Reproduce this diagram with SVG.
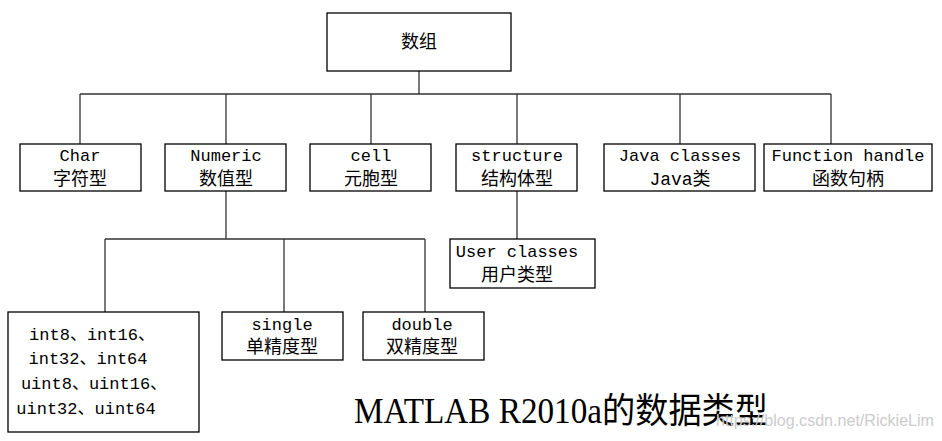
<svg xmlns="http://www.w3.org/2000/svg" width="942" height="441" viewBox="0 0 942 441">
<style>
.box{fill:#fff;stroke:#000;stroke-width:1.3}
.ln{stroke:#333;stroke-width:1.3;fill:none}
text{font-family:"Liberation Mono","Noto Sans CJK SC",monospace;font-size:17px;fill:#000;text-anchor:middle}
.cj{font-size:18px}
.title{font-family:"Liberation Serif","Noto Sans CJK SC",serif;font-size:35px;text-anchor:start}
.wm{font-family:"Liberation Sans",sans-serif;font-size:16px;fill:#ccc;text-anchor:start}
</style>
<rect width="942" height="441" fill="#fff"/>
<g id="connectors">
<path class="ln" d="M419,71V94M80,94H831M80,94V144M226,94V144M371,94V144M517,94V144M680,94V144M831,94V144"/>
<path class="ln" d="M226,191V239M105,239H425M105,239V312M284,239V312M425,239V312"/>
<path class="ln" d="M517,191V239"/>
</g>
<g id="root"><rect class="box" x="327" y="13" width="184" height="58"/><text class="cj" x="419" y="48">数组</text></g>
<g id="char"><rect class="box" x="20" y="144" width="121" height="47"/><text x="80" y="161">Char</text><text class="cj" x="80" y="185">字符型</text></g>
<g id="numeric"><rect class="box" x="165" y="144" width="121" height="47"/><text x="226" y="161">Numeric</text><text class="cj" x="226" y="185">数值型</text></g>
<g id="cell"><rect class="box" x="310" y="144" width="121" height="47"/><text x="371" y="161">cell</text><text class="cj" x="371" y="185">元胞型</text></g>
<g id="structure"><rect class="box" x="456" y="144" width="121" height="47"/><text x="517" y="161">structure</text><text class="cj" x="517" y="185">结构体型</text></g>
<g id="java"><rect class="box" x="604" y="144" width="151" height="47"/><text x="680" y="161">Java classes</text><text class="cj" x="680" y="185">Java类</text></g>
<g id="funchandle"><rect class="box" x="764" y="144" width="168" height="47"/><text x="848" y="161">Function handle</text><text class="cj" x="848" y="185">函数句柄</text></g>
<g id="userclasses"><rect class="box" x="450" y="239" width="145" height="49"/><text x="517" y="257">User classes</text><text class="cj" x="517" y="281">用户类型</text></g>
<g id="ints"><rect class="box" x="8" y="312" width="191" height="120"/>
<text x="92" y="340">int8、int16、</text>
<text x="88" y="364">int32、int64</text>
<text x="94" y="389">uint8、uint16、</text>
<text x="86" y="414">uint32、uint64</text></g>
<g id="single"><rect class="box" x="222" y="312" width="121" height="48"/><text x="282" y="330">single</text><text class="cj" x="282" y="353">单精度型</text></g>
<g id="double"><rect class="box" x="363" y="312" width="121" height="48"/><text x="422" y="330">double</text><text class="cj" x="422" y="353">双精度型</text></g>
<text class="title" x="354" y="423" textLength="414" lengthAdjust="spacingAndGlyphs">MATLAB R2010a的数据类型</text>
<text class="wm" x="716" y="426" textLength="218" lengthAdjust="spacingAndGlyphs">https://blog.csdn.net/RickieLim</text>
</svg>
